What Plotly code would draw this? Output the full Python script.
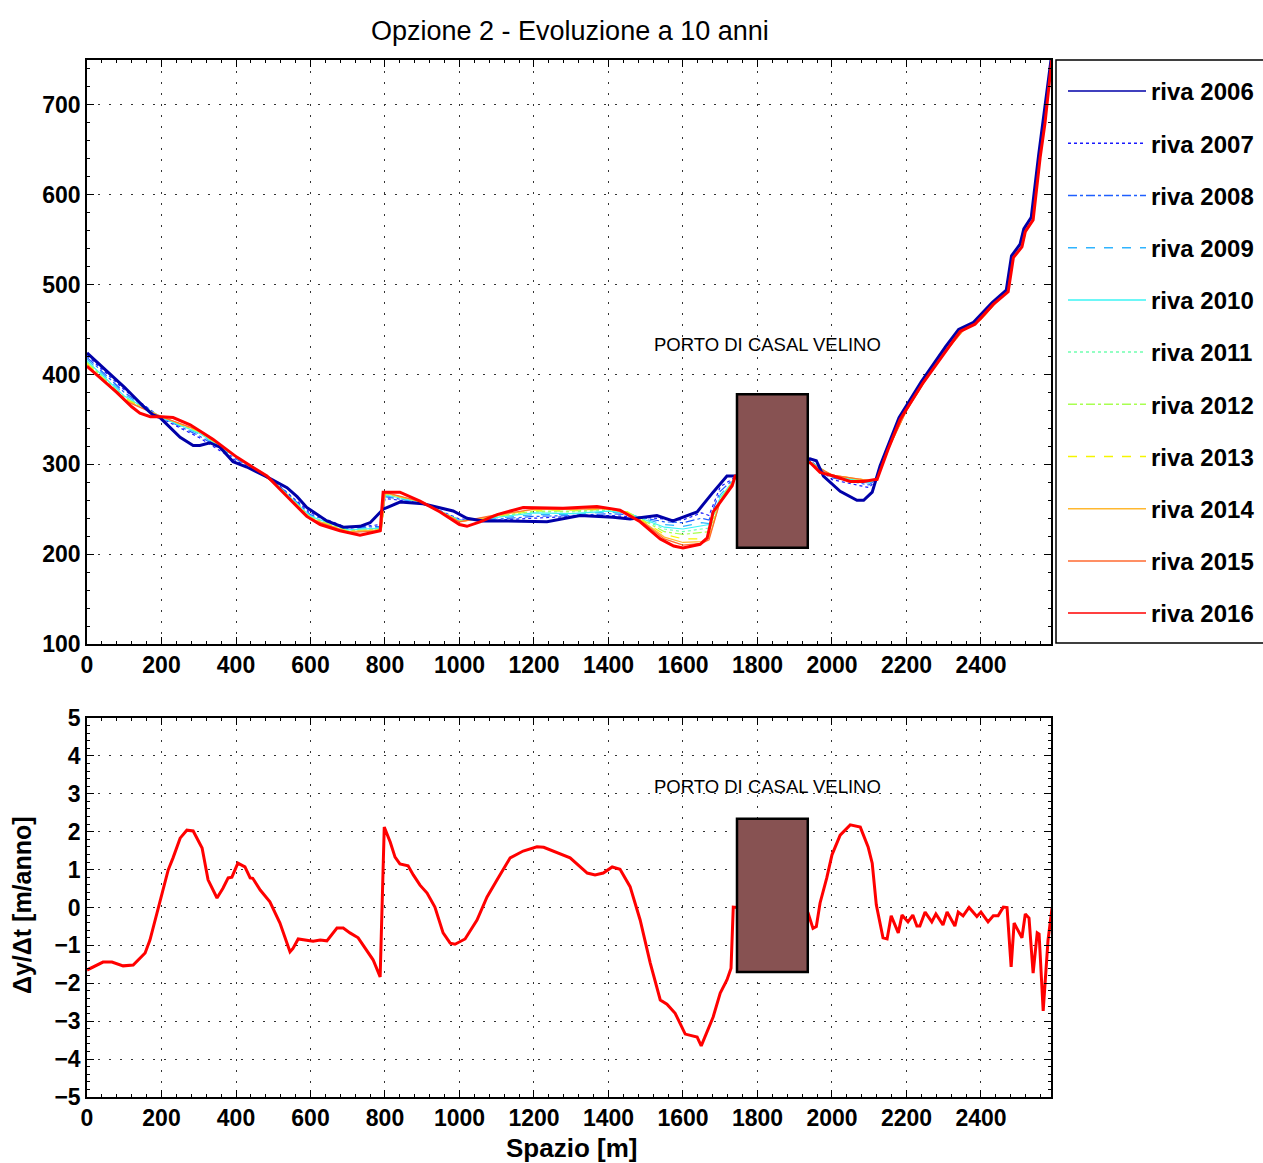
import plotly.graph_objects as go

# ---------------- data ----------------
# top panel: shoreline position (y) along the coast (x) [m]
x_2006 = [0, 50, 100, 150, 177, 196, 223, 250, 285, 303, 330, 357, 392, 429, 483, 537, 564, 590, 644, 688, 733, 760, 795, 840, 902, 956, 983, 1020, 1063, 1109, 1235, 1324, 1412, 1458, 1530, 1573, 1638, 1681, 1718, 1745, 1941, 1958, 1977, 2022, 2067, 2085, 2108, 2129, 2180, 2240, 2305, 2340, 2380, 2430, 2468, 2482, 2505, 2515, 2535, 2555, 2568, 2588]
y_2006 = [424, 405, 386, 365, 355, 352, 341, 330, 321, 321, 324, 319, 303, 297, 286, 274, 264, 252, 237, 230, 231, 235, 250, 258, 256, 251, 248, 240, 237, 237, 236, 243, 241, 239, 243, 237, 247, 269, 287, 287, 306, 304, 287, 270, 260, 260, 269, 298, 352, 392, 431, 450, 458, 480, 494, 532, 545, 562, 575, 645, 685, 750]

x_2016 = [0, 40, 80, 120, 142, 170, 200, 231, 277, 338, 402, 483, 537, 590, 626, 679, 733, 787, 795, 840, 894, 948, 1000, 1020, 1055, 1101, 1171, 1278, 1369, 1431, 1485, 1539, 1575, 1600, 1646, 1665, 1681, 1718, 1732, 1740, 1941, 1968, 2004, 2049, 2085, 2116, 2121, 2150, 2183, 2245, 2309, 2344, 2384, 2433, 2473, 2487, 2510, 2519, 2540, 2559, 2572, 2590]
y_2016 = [409, 395, 380, 364, 357, 353, 353, 352, 344, 328, 308, 287, 264, 242, 233, 226, 221, 226, 269, 269, 259, 247, 233, 231, 236, 244, 252, 251, 253, 249, 236, 217, 209, 207, 211, 218, 247, 269, 276, 287, 302, 291, 287, 281, 281, 283, 283, 316, 350, 391, 428, 448, 456, 478, 492, 530, 542, 559, 572, 642, 680, 750]

# intermediate years share a coarser x grid
x_mid = [0, 100, 200, 300, 400, 500, 600, 700, 790, 800, 900, 1000, 1100, 1200, 1300, 1400, 1450, 1500, 1550, 1600, 1650, 1670, 1700, 1745, 1940, 2000, 2100, 2120, 2150, 2200, 2250, 2300, 2350, 2400, 2440, 2470, 2487, 2510, 2520, 2540, 2559, 2572, 2590]
y_2007 = [421, 383, 351, 330, 304, 282, 246, 229, 233, 262, 257, 239, 238, 240, 242, 243, 242, 241, 239, 238, 246, 243, 275, 287, 305, 283, 274, 284, 318, 362, 395, 425, 450, 463, 482, 494, 531, 543, 560, 574, 644, 682, 750]
y_2008 = [419, 380, 352, 332, 306, 282, 244, 229, 231, 264, 257, 238, 239, 242, 243, 245, 244, 240, 236, 235, 240, 238, 270, 287, 304, 285, 277, 284, 317, 362, 395, 425, 450, 463, 482, 494, 531, 543, 560, 573, 643, 682, 750]
y_2009 = [417, 378, 352, 334, 307, 281, 243, 228, 230, 265, 257, 238, 240, 244, 244, 247, 245, 239, 233, 231, 235, 234, 266, 287, 304, 286, 279, 284, 317, 362, 394, 424, 449, 462, 481, 493, 531, 543, 560, 573, 643, 681, 750]
y_2010 = [415, 376, 352, 335, 308, 281, 242, 227, 229, 266, 258, 237, 241, 246, 245, 248, 246, 238, 230, 228, 231, 233, 263, 287, 303, 287, 280, 284, 317, 361, 394, 424, 449, 462, 481, 493, 531, 543, 560, 573, 643, 681, 750]
y_2011 = [414, 375, 353, 336, 308, 281, 241, 226, 228, 267, 258, 237, 242, 247, 247, 249, 247, 237, 228, 225, 228, 229, 262, 287, 303, 287, 281, 283, 317, 361, 394, 424, 449, 462, 481, 493, 530, 542, 560, 573, 643, 681, 750]
y_2012 = [413, 374, 353, 336, 309, 281, 241, 226, 228, 267, 258, 237, 242, 248, 248, 250, 247, 236, 225, 222, 224, 225, 261, 287, 303, 288, 281, 283, 316, 361, 393, 424, 449, 462, 480, 493, 530, 542, 559, 572, 642, 680, 750]
y_2013 = [412, 373, 353, 337, 309, 280, 240, 225, 227, 268, 258, 236, 243, 249, 249, 250, 247, 235, 222, 217, 217, 220, 260, 287, 302, 288, 282, 283, 316, 360, 393, 423, 448, 461, 480, 492, 530, 542, 559, 572, 642, 680, 750]
y_2014 = [411, 372, 353, 337, 309, 280, 240, 225, 227, 268, 258, 236, 243, 250, 250, 251, 246, 234, 219, 213, 214, 218, 259, 287, 302, 288, 282, 283, 316, 360, 393, 423, 448, 461, 480, 492, 530, 542, 559, 572, 642, 680, 750]
y_2015 = [410, 371, 353, 338, 309, 280, 239, 224, 226, 269, 258, 236, 244, 250, 250, 251, 245, 233, 217, 210, 212, 216, 259, 287, 302, 288, 282, 283, 316, 360, 393, 423, 448, 461, 480, 492, 530, 542, 559, 572, 642, 680, 750]

years = ["2006", "2007", "2008", "2009", "2010", "2011", "2012", "2013", "2014", "2015", "2016"]

# bottom panel: mean shoreline rate dy/dt [m/anno]
x_rate = [0, 43, 67, 97, 124, 156, 169, 183, 201, 218, 231, 250, 268, 285, 309, 325, 349, 365, 379, 389, 405, 424, 438, 445, 465, 491, 518, 545, 553, 567, 607, 626, 644, 671, 688, 706, 728, 751, 768, 787, 798, 814, 827, 840, 862, 876, 894, 913, 934, 956, 975, 988, 1015, 1047, 1074, 1101, 1136, 1171, 1208, 1226, 1251, 1297, 1343, 1364, 1386, 1410, 1431, 1458, 1485, 1512, 1539, 1557, 1579, 1606, 1638, 1649, 1681, 1700, 1718, 1729, 1735, 1745, 1936, 1949, 1958, 1968, 1986, 2000, 2022, 2049, 2076, 2097, 2108, 2119, 2137, 2148, 2159, 2178, 2188, 2204, 2217, 2228, 2236, 2250, 2268, 2279, 2298, 2309, 2330, 2339, 2352, 2368, 2389, 2400, 2419, 2433, 2446, 2460, 2470, 2481, 2489, 2510, 2519, 2529, 2540, 2551, 2556, 2567, 2580, 2591]
y_rate = [-1.65, -1.44, -1.44, -1.54, -1.52, -1.20, -0.86, -0.33, 0.28, 0.99, 1.31, 1.83, 2.04, 2.02, 1.57, 0.73, 0.25, 0.51, 0.78, 0.80, 1.17, 1.07, 0.78, 0.77, 0.46, 0.15, -0.41, -1.17, -1.08, -0.83, -0.89, -0.86, -0.88, -0.54, -0.54, -0.67, -0.80, -1.12, -1.38, -1.83, 2.12, 1.73, 1.33, 1.15, 1.10, 0.86, 0.59, 0.38, 0.01, -0.67, -0.94, -0.97, -0.83, -0.33, 0.28, 0.73, 1.31, 1.49, 1.60, 1.59, 1.49, 1.31, 0.91, 0.86, 0.91, 1.07, 1.01, 0.55, -0.33, -1.46, -2.44, -2.55, -2.79, -3.34, -3.42, -3.65, -2.89, -2.26, -1.91, -1.60, 0.01, 0.0, -0.15, -0.55, -0.50, 0.12, 0.78, 1.39, 1.91, 2.18, 2.12, 1.60, 1.17, 0.07, -0.80, -0.83, -0.22, -0.67, -0.20, -0.38, -0.20, -0.49, -0.49, -0.12, -0.38, -0.17, -0.46, -0.12, -0.49, -0.12, -0.22, 0.0, -0.24, -0.12, -0.38, -0.22, -0.22, 0.01, 0.0, -1.57, -0.41, -0.80, -0.17, -0.28, -1.73, -0.67, -0.70, -2.73, -0.86, 0.0]

# harbour block (Porto di Casal Velino)
port_x = [1745, 1935]
port_top_y = [207, 378]
port_bot_y = [-1.70, 2.34]
port_label = "PORTO DI CASAL VELINO"

x_ticks = [0, 200, 400, 600, 800, 1000, 1200, 1400, 1600, 1800, 2000, 2200, 2400]
y_top_ticks = [100, 200, 300, 400, 500, 600, 700]
y_bot_ticks = [-5, -4, -3, -2, -1, 0, 1, 2, 3, 4, 5]

# ---------------- styles ----------------
colors = ["#0000A8", "#1a1aff", "#1f5fff", "#2fb4ff", "#3cf5f5", "#6fffb0", "#a8ff50",
          "#f5f500", "#ffb830", "#ff6a30", "#ff0000"]
dashes = ["solid", "dot", "dashdot", "dash", "solid", "dot", "dashdot", "dash", "solid", "solid", "solid"]
widths = [3, 1.2, 1.2, 1.2, 1.2, 1.2, 1.2, 1.2, 1.2, 1.2, 3]

series = {
    "2006": (x_2006, y_2006),
    "2007": (x_mid, y_2007),
    "2008": (x_mid, y_2008),
    "2009": (x_mid, y_2009),
    "2010": (x_mid, y_2010),
    "2011": (x_mid, y_2011),
    "2012": (x_mid, y_2012),
    "2013": (x_mid, y_2013),
    "2014": (x_mid, y_2014),
    "2015": (x_mid, y_2015),
    "2016": (x_2016, y_2016),
}

W, H = 1263, 1163
FONT = "Liberation Sans, Arial, sans-serif"

fig = go.Figure()

# draw intermediate years first, then 2006, then 2016 on top
order = ["2007", "2008", "2009", "2010", "2011", "2012", "2013", "2014", "2015", "2006", "2016"]
for yr in order:
    i = years.index(yr)
    xs, ys = series[yr]
    fig.add_trace(go.Scatter(
        x=xs, y=ys, mode="lines", showlegend=False,
        line=dict(color=colors[i], dash=dashes[i], width=widths[i]),
        xaxis="x", yaxis="y", legendgroup=yr,
    ))

# legend entries (thin sample lines, as in the reference legend)
for i, yr in enumerate(years):
    fig.add_trace(go.Scatter(
        x=[None], y=[None], mode="lines", name="riva " + yr,
        line=dict(color=colors[i], dash=dashes[i], width=1.5),
        xaxis="x", yaxis="y", legendgroup=yr, legendrank=i,
    ))

fig.add_trace(go.Scatter(
    x=x_rate, y=y_rate, mode="lines", showlegend=False,
    line=dict(color="#ff0000", width=3), xaxis="x2", yaxis="y2",
))

# domains from pixel geometry
def px_x(p):
    return p / W

def px_y(p):
    return 1 - p / H

axis_common = dict(
    showline=True, linecolor="black", linewidth=1.5, mirror="allticks",
    ticks="inside", ticklen=7, tickwidth=1.2, tickcolor="black",
    showgrid=True, gridcolor="#333333", gridwidth=1, griddash="2px,9px",
    zeroline=False, automargin=False,
    tickfont=dict(family=FONT, size=23, color="black", weight="bold"),
)

fig.update_layout(
    width=W, height=H,
    margin=dict(l=0, r=0, t=0, b=0, pad=0, autoexpand=False),
    paper_bgcolor="white", plot_bgcolor="white",
    showlegend=True,
    xaxis=dict(domain=[px_x(87), px_x(1051)], range=[0, 2588], tickvals=x_ticks,
               anchor="y", minor=dict(ticks="inside", ticklen=3, dtick=40, tickcolor="black", showgrid=False),
               **axis_common),
    yaxis=dict(domain=[px_y(644), px_y(60)], range=[100, 750], tickvals=y_top_ticks,
               anchor="x", minor=dict(ticks="inside", ticklen=3, dtick=20, tickcolor="black", showgrid=False),
               **axis_common),
    xaxis2=dict(domain=[px_x(87), px_x(1051)], range=[0, 2588], tickvals=x_ticks,
                anchor="y2", minor=dict(ticks="inside", ticklen=3, dtick=40, tickcolor="black", showgrid=False),
                **axis_common),
    yaxis2=dict(domain=[px_y(1097), px_y(718)], range=[-5, 5], tickvals=y_bot_ticks,
                anchor="x2", minor=dict(ticks="inside", ticklen=3, dtick=0.2, tickcolor="black", showgrid=False),
                **axis_common),
    legend=dict(
        x=px_x(1063), y=px_y(69), xanchor="left", yanchor="top",
        bgcolor="rgba(0,0,0,0)", borderwidth=0,
        font=dict(family=FONT, size=24, color="black", weight="bold"),
        tracegroupgap=18, itemwidth=78,
    ),
)

# legend frame
fig.add_shape(type="rect", xref="paper", yref="paper", x0=px_x(1056), x1=px_x(1265),
              y0=px_y(643), y1=px_y(60), line=dict(color="black", width=1.5),
              fillcolor="rgba(0,0,0,0)", layer="below")

# harbour rectangles
fig.add_shape(type="rect", xref="x", yref="y", x0=port_x[0], x1=port_x[1],
              y0=port_top_y[0], y1=port_top_y[1], fillcolor="#875252",
              line=dict(color="black", width=2.5), layer="above")
fig.add_shape(type="rect", xref="x2", yref="y2", x0=port_x[0], x1=port_x[1],
              y0=port_bot_y[0], y1=port_bot_y[1], fillcolor="#875252",
              line=dict(color="black", width=2.5), layer="above")

# labels
fig.add_annotation(x=1828, y=433, xref="x", yref="y", text=port_label, showarrow=False,
                   font=dict(family=FONT, size=18.5, color="black"))
fig.add_annotation(x=1828, y=3.18, xref="x2", yref="y2", text=port_label, showarrow=False,
                   font=dict(family=FONT, size=18.5, color="black"))
fig.add_annotation(x=px_x(570), y=px_y(31), xref="paper", yref="paper",
                   xanchor="center", yanchor="middle",
                   text="Opzione 2 - Evoluzione a 10 anni", showarrow=False,
                   font=dict(family=FONT, size=27, color="black"))
fig.add_annotation(x=px_x(571), y=px_y(1148), xref="paper", yref="paper",
                   xanchor="center", yanchor="middle",
                   text="Spazio [m]", showarrow=False,
                   font=dict(family=FONT, size=26, color="black", weight="bold"))
fig.add_annotation(x=px_x(22), y=px_y(905), xref="paper", yref="paper",
                   xanchor="center", yanchor="middle",
                   text="Δy/Δt [m/anno]", showarrow=False, textangle=-90,
                   font=dict(family=FONT, size=25, color="black", weight="bold"))

fig.write_html("out.html")
